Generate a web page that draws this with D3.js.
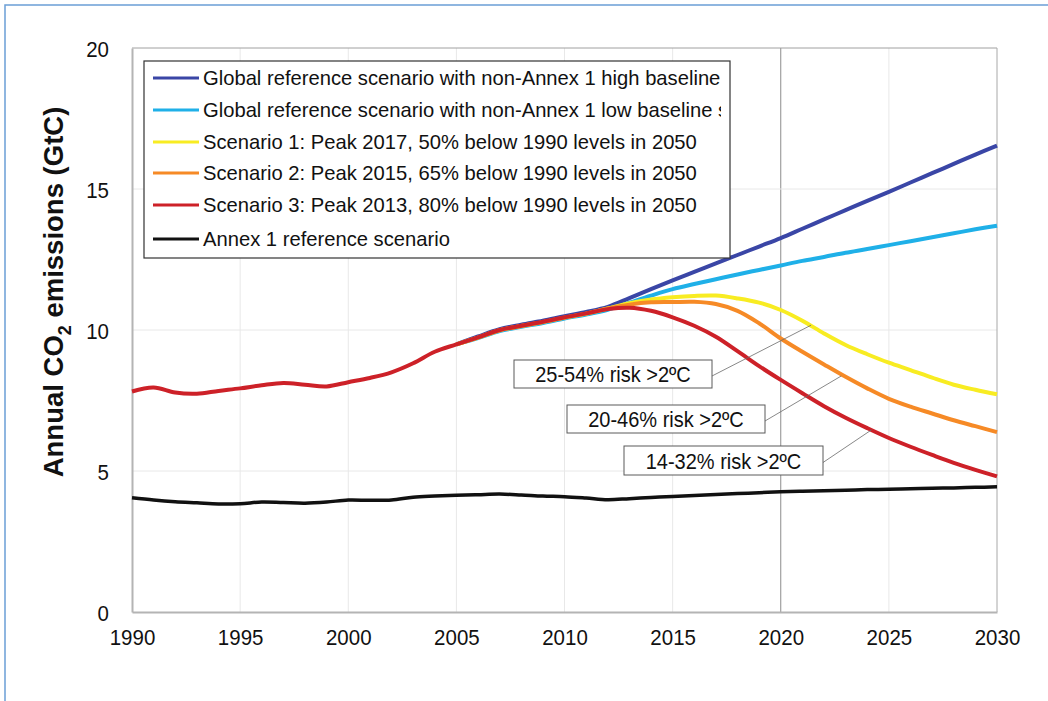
<!DOCTYPE html>
<html>
<head>
<meta charset="utf-8">
<script src="https://cdn.jsdelivr.net/npm/d3@7"></script>
<style>
  html, body { margin: 0; padding: 0; background: #fff; }
  svg { display: block; font-family: "Liberation Sans", Arial, sans-serif; }
</style>
</head>
<body>
<svg id="chart" width="1048" height="701"></svg>
<script>
// ---- data (GtC per year) ----
const years = [1990,1991,1992,1993,1994,1995,1996,1997,1998,1999,
               2000,2001,2002,2003,2004,2005,2006,2007,2008,2009,
               2010,2011,2012,2013,2014,2015,2016,2017,2018,2019,
               2020,2021,2022,2023,2024,2025,2026,2027,2028,2029,2030];

// scenario projections start in 2005
const projYears = [2005,2006,2007,2008,2009,2010,2011,2012,2013,2014,
                   2015,2016,2017,2018,2019,2020,2021,2022,2023,2024,
                   2025,2026,2027,2028,2029,2030];

const highBaseline = [9.49,9.77,10.03,10.19,10.33,10.49,10.64,10.82,11.13,11.45,
                      11.76,12.06,12.36,12.66,12.96,13.26,13.59,13.92,14.25,14.58,
                      14.90,15.23,15.56,15.89,16.22,16.54];

const lowBaseline = [9.49,9.71,9.96,10.11,10.25,10.41,10.55,10.72,10.97,11.22,
                     11.45,11.63,11.80,11.97,12.13,12.29,12.45,12.59,12.74,12.87,
                     13.01,13.15,13.29,13.43,13.57,13.70];

const scenario1 = [9.49,9.73,9.99,10.14,10.28,10.44,10.58,10.76,10.95,11.08,
                   11.16,11.21,11.22,11.12,10.97,10.71,10.33,9.88,9.47,9.14,
                   8.84,8.58,8.31,8.06,7.88,7.72];

const scenario2 = [9.49,9.73,9.99,10.14,10.28,10.44,10.58,10.76,10.90,10.98,
                   10.99,11.00,10.92,10.68,10.24,9.70,9.23,8.78,8.34,7.93,
                   7.56,7.28,7.04,6.80,6.59,6.38];

const scenario3 = [7.82,7.96,7.78,7.74,7.84,7.93,8.04,8.12,8.06,8.00,
                   8.15,8.30,8.50,8.82,9.23,9.49,9.74,10.00,10.15,10.29,
                   10.45,10.59,10.74,10.79,10.68,10.45,10.15,9.76,9.25,8.72,
                   8.23,7.76,7.30,6.89,6.52,6.17,5.86,5.57,5.29,5.04,4.81];

const annex1 = [4.05,3.97,3.91,3.87,3.83,3.84,3.90,3.88,3.86,3.90,
                3.97,3.96,3.97,4.07,4.11,4.14,4.16,4.18,4.15,4.11,
                4.09,4.04,3.98,4.02,4.06,4.10,4.13,4.17,4.20,4.23,
                4.26,4.28,4.30,4.32,4.34,4.35,4.37,4.39,4.40,4.42,4.44];

const seriesNames = [
  "Global reference scenario with non-Annex 1 high baseline",
  "Global reference scenario with non-Annex 1 low baseline scenario",
  "Scenario 1: Peak 2017, 50% below 1990 levels in 2050",
  "Scenario 2: Peak 2015, 65% below 1990 levels in 2050",
  "Scenario 3: Peak 2013, 80% below 1990 levels in 2050",
  "Annex 1 reference scenario"
];

const xTicks = [1990,1995,2000,2005,2010,2015,2020,2025,2030];
const yTicks = [0,5,10,15,20];

// risk labels with the point on the curve they refer to
const riskLabels = ["25-54% risk >2ºC", "20-46% risk >2ºC", "14-32% risk >2ºC"];
const riskYears = [2021.4, 2022.8, 2024.2];
const riskValues = [10.17, 8.37, 6.46];

// ---- layout ----
const colors = ["#3a46a6", "#1fb0e8", "#f8ec22", "#f68a26", "#cd2128", "#111111"];
const margin = { left: 132, right: 51, top: 48, bottom: 89 };
const W = 1048, H = 701;
const FONT = "'Liberation Sans', Arial, sans-serif";

const svg = d3.select("#chart");

// outer frame
svg.append("rect")
  .attr("x", 5).attr("y", 5).attr("width", 1100).attr("height", 800)
  .attr("fill", "none").attr("stroke", "#6b9fd6").attr("stroke-width", 1.5);

const x = d3.scaleLinear().domain([1990, 2030]).range([margin.left, W - margin.right]);
const y = d3.scaleLinear().domain([0, 20]).range([H - margin.bottom, margin.top]);

// gridlines
const grid = svg.append("g");
grid.selectAll("line.vg").data(xTicks.slice(1, -1)).join("line")
  .attr("x1", d => x(d)).attr("x2", d => x(d))
  .attr("y1", y(0)).attr("y2", y(20))
  .attr("stroke", d => d === 2020 ? "#8c8c8c" : "#e8e8e8")
  .attr("stroke-width", 1);
grid.selectAll("line.hg").data(yTicks.slice(1)).join("line")
  .attr("x1", x(1990)).attr("x2", x(2030))
  .attr("y1", d => y(d)).attr("y2", d => y(d))
  .attr("stroke", d => d === 20 ? "#a0a0a0" : "#e8e8e8")
  .attr("stroke-width", 1);
// right edge
svg.append("line")
  .attr("x1", x(2030)).attr("x2", x(2030)).attr("y1", y(0)).attr("y2", y(20))
  .attr("stroke", "#a8a8a8").attr("stroke-width", 1);

// axes (tick labels slightly tall, as in the printed figure)
const xAxis = svg.append("g")
  .attr("transform", `translate(0,${y(0)})`)
  .call(d3.axisBottom(x).tickValues(xTicks).tickFormat(d3.format("d")).tickSize(0));
xAxis.select(".domain").attr("stroke", "#b4b4b4").attr("stroke-width", 2);
xAxis.selectAll("text")
  .attr("y", 0).attr("dy", 0)
  .attr("transform", "translate(0,33) scale(1,1.12)")
  .attr("font-size", 20.5).attr("fill", "#111").attr("font-family", FONT);

const yAxis = svg.append("g")
  .attr("transform", `translate(${x(1990)},0)`)
  .call(d3.axisLeft(y).tickValues(yTicks).tickSize(0));
yAxis.select(".domain").attr("stroke", "#b4b4b4").attr("stroke-width", 2);
yAxis.selectAll("text")
  .attr("x", 0).attr("dy", 0)
  .attr("transform", "translate(-23,8) scale(1,1.12)")
  .attr("font-size", 20.5).attr("fill", "#111").attr("font-family", FONT);

// y title
const yTitle = svg.append("text")
  .attr("transform", `translate(63,292) rotate(-90)`)
  .attr("text-anchor", "middle")
  .attr("font-size", 27.5).attr("font-weight", "bold").attr("fill", "#111");
yTitle.append("tspan").text("Annual CO");
yTitle.append("tspan").attr("font-size", 18).attr("dy", 8).text("2");
yTitle.append("tspan").attr("dy", -8).text(" emissions (GtC)");

// lines
const line = d3.line()
  .x(d => x(d[0])).y(d => y(d[1]))
  .curve(d3.curveCatmullRom.alpha(0.5));

const seriesData = [
  d3.zip(projYears, highBaseline),
  d3.zip(projYears, lowBaseline),
  d3.zip(projYears, scenario1),
  d3.zip(projYears, scenario2),
  d3.zip(years, scenario3),
  d3.zip(years, annex1)
];

svg.append("g").selectAll("path").data(seriesData).join("path")
  .attr("d", line)
  .attr("fill", "none")
  .attr("stroke", (d, i) => colors[i])
  .attr("stroke-width", (d, i) => i === 5 ? 3.5 : 4)
  .attr("stroke-linejoin", "round")
  .attr("stroke-linecap", "butt");

// risk annotations
const boxes = [
  { x: 514, y: 360, w: 198, h: 28 },
  { x: 567, y: 405, w: 198, h: 28 },
  { x: 624, y: 446, w: 199, h: 29 }
];
const ann = svg.append("g");
riskLabels.forEach((lab, i) => {
  const b = boxes[i];
  ann.append("line")
    .attr("x1", b.x + b.w).attr("y1", b.y + b.h / 2 + 2)
    .attr("x2", x(riskYears[i])).attr("y2", y(riskValues[i]))
    .attr("stroke", "#6a6a6a").attr("stroke-width", 0.8);
  ann.append("rect")
    .attr("x", b.x).attr("y", b.y).attr("width", b.w).attr("height", b.h)
    .attr("fill", "#fff").attr("stroke", "#5a5a5a").attr("stroke-width", 1);
  ann.append("text")
    .attr("transform", `translate(${b.x + b.w / 2},${b.y + b.h / 2 + 8}) scale(1,1.08)`)
    .attr("text-anchor", "middle").attr("font-size", 20).attr("fill", "#111")
    .text(lab);
});

// legend (the long second entry is cut off at the box edge)
const lg = { x: 144, y: 61, w: 586, h: 197 };
svg.append("clipPath").attr("id", "legclip")
  .append("rect").attr("x", lg.x).attr("y", lg.y).attr("width", lg.w - 9).attr("height", lg.h);
const legend = svg.append("g");
legend.append("rect")
  .attr("x", lg.x).attr("y", lg.y).attr("width", lg.w).attr("height", lg.h)
  .attr("fill", "#fff").attr("stroke", "#333").attr("stroke-width", 1.2);
const rowY = [78, 110, 142, 173, 205, 239];
const items = legend.append("g").attr("clip-path", "url(#legclip)")
  .selectAll("g").data(seriesNames).join("g")
  .attr("transform", (d, i) => `translate(0,${rowY[i]})`);
items.append("line")
  .attr("x1", 153).attr("x2", 199).attr("y1", 0).attr("y2", 0)
  .attr("stroke", (d, i) => colors[i]).attr("stroke-width", 3);
items.append("text")
  .attr("x", 203).attr("y", 7)
  .attr("font-size", 20.2).attr("fill", "#111")
  .text(d => d);
</script>
</body>
</html>
